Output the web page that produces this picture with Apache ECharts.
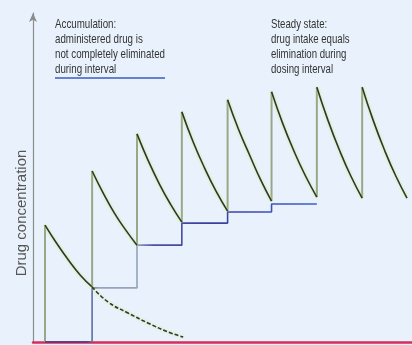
<!DOCTYPE html>
<html>
<head>
<meta charset="utf-8">
<style>
  html, body { margin: 0; padding: 0; background: #e9f2fc; }
  #accumulation { width: 412px; height: 345px; }
</style>
<script src="https://cdn.jsdelivr.net/npm/echarts@6/dist/echarts.min.js"></script>
</head>
<body>
<div id="accumulation"></div>
<script>
// time in dosing intervals, concentration in arbitrary units
const doseTimes = [0, 1.04, 2.03, 3.02, 4.03, 5.0, 6.0, 7.0];
const decayEnds = [1.04, 2.03, 3.02, 4.03, 5.0, 6.0, 7.0, 7.99];
const troughBefore = [0, 16.5, 29.0, 35.9, 39.2, 42.2, 43.4, 43.1];
const peakLevels = [35.0, 51.2, 62.3, 68.9, 72.5, 74.9, 76.3, 76.3];
// readings along each decay: at the dose, 1/4, 1/2, 3/4 of the interval, and at its end
const readingSteps = [0, 0.25, 0.5, 0.75, 1];
const decayReadings = [
  [35.0, 29.5, 24.5, 20.0, 16.5],
  [51.2, 44.5, 38.5, 33.5, 29.0],
  [62.3, 54.3, 47.3, 41.2, 35.9],
  [68.9, 59.8, 52.0, 45.1, 39.2],
  [72.5, 63.6, 56.0, 48.6, 42.2],
  [74.9, 65.3, 57.0, 49.7, 43.4],
  [76.3, 66.2, 57.4, 49.7, 43.1],
  [76.3, 66.2, 57.4, 49.7, 43.1]
];
// first dose alone, as if no further dose were given
const singleDoseTimes = [1.04, 1.39, 1.83, 2.27, 2.72, 3.05];
const singleDoseLevels = [16.5, 12.0, 8.7, 5.7, 3.0, 1.5];
// staircase of the trough levels
const stepTimes = [0, 1.04, 2.03, 3.02, 4.03, 5.0, 6.0];
const stepLevels = [0, 16.2, 29.0, 35.6, 38.9, 41.3, 41.3];

let chart = echarts.init(document.getElementById("accumulation"));

let series = [];

// dose given: vertical rise
doseTimes.forEach(function (t, i) {
  series.push({
    type: "line",
    symbol: "none",
    z: 3,
    lineStyle: { color: "#98a886", width: 2 },
    data: [[t, troughBefore[i]], [t, peakLevels[i]]]
  });
});

// elimination during each interval
decayReadings.forEach(function (row, i) {
  let span = decayEnds[i] - doseTimes[i];
  series.push({
    type: "line",
    symbol: "none",
    smooth: 0.5,
    z: 5,
    lineStyle: {
      color: "#2d3a28",
      width: 1.6,
      shadowColor: "rgba(205,225,120,0.9)",
      shadowBlur: 3
    },
    data: row.map(function (c, k) {
      return [doseTimes[i] + readingSteps[k] * span, c];
    })
  });
});

series.push({
  type: "line",
  symbol: "none",
  smooth: 0.5,
  z: 5,
  lineStyle: {
    color: "#2d3a28",
    width: 1.6,
    type: [4, 2],
    shadowColor: "rgba(205,225,120,0.9)",
    shadowBlur: 3
  },
  data: singleDoseTimes.map(function (t, i) {
    return [t, singleDoseLevels[i]];
  })
});

series.push({
  type: "line",
  symbol: "none",
  step: "end",
  z: 4,
  lineStyle: {
    width: 1.6,
    color: new echarts.graphic.LinearGradient(0, 0, 1, 0, [
      { offset: 0, color: "#2e3a8e" },
      { offset: 0.16, color: "#2e3a8e" },
      { offset: 0.2, color: "#93a4bc" },
      { offset: 0.34, color: "#93a4bc" },
      { offset: 0.4, color: "#4a52a6" },
      { offset: 0.62, color: "#3c3f9a" },
      { offset: 1, color: "#3a62d2" }
    ])
  },
  data: stepTimes.map(function (t, i) {
    return [t, stepLevels[i]];
  })
});

let option = {
  backgroundColor: "#e9f2fc",
  animation: false,
  grid: { left: 33, right: 0, top: 13, bottom: 3 },
  xAxis: {
    type: "value",
    min: -0.265,
    max: 8.1,
    axisLine: { lineStyle: { color: "#d42f5a", width: 2.5 } },
    axisTick: { show: false },
    axisLabel: { show: false },
    splitLine: { show: false }
  },
  yAxis: {
    type: "value",
    min: 0,
    max: 98.5,
    axisLine: {
      show: true,
      onZero: false,
      symbol: ["none", "arrow"],
      symbolSize: [6, 9],
      lineStyle: { color: "#8c8c8c", width: 1.2 }
    },
    axisTick: { show: false },
    axisLabel: { show: false },
    splitLine: { show: false }
  },
  graphic: [
    {
      type: "text",
      x: 22,
      y: 213,
      rotation: Math.PI / 2,
      style: {
        text: "Drug concentration",
        fontFamily: "Liberation Sans, Arial, sans-serif",
        fontSize: 15,
        fill: "#555",
        align: "center",
        verticalAlign: "middle"
      }
    },
    {
      type: "text",
      x: 55,
      y: 17,
      scaleX: 0.75,
      style: {
        text: "Accumulation:\nadministered drug is\nnot completely eliminated\nduring interval",
        fontFamily: "Liberation Sans Narrow, Arial Narrow, sans-serif",
        fontSize: 13,
        lineHeight: 15,
        fill: "#333"
      }
    },
    {
      type: "line",
      shape: { x1: 55, y1: 78, x2: 165, y2: 78 },
      style: { stroke: "#3a5bc0", lineWidth: 1.5 }
    },
    {
      type: "text",
      x: 271,
      y: 17,
      scaleX: 0.74,
      style: {
        text: "Steady state:\ndrug intake equals\nelimination during\ndosing interval",
        fontFamily: "Liberation Sans Narrow, Arial Narrow, sans-serif",
        fontSize: 13,
        lineHeight: 15,
        fill: "#333"
      }
    }
  ],
  series: series
};

chart.setOption(option);
</script>
</body>
</html>
